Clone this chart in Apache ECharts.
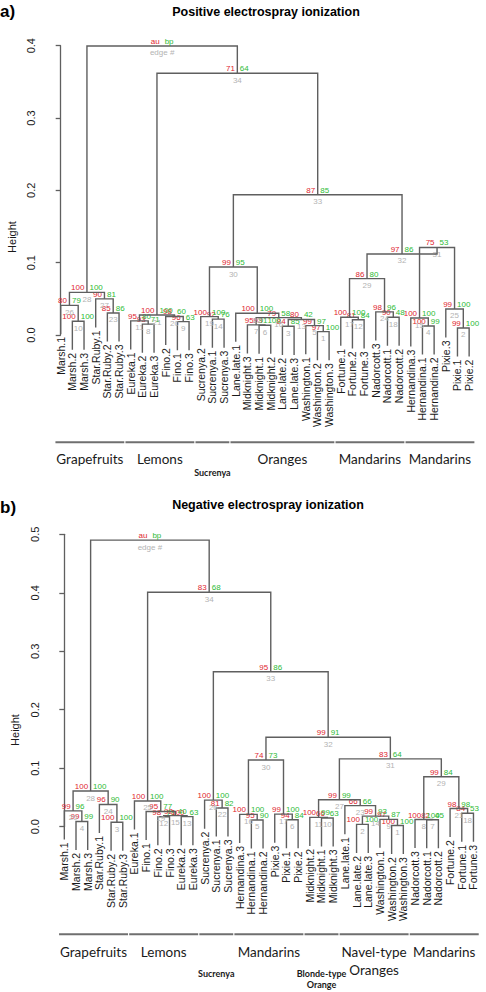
<!DOCTYPE html>
<html><head><meta charset="utf-8">
<script src="https://cdn.jsdelivr.net/npm/echarts@6/dist/echarts.min.js"></script>
<style>html,body{margin:0;padding:0;background:#fff}#c{width:486px;height:992px}</style>
</head><body><div id="c"></div>
<script>
// ---------------- DATA: panel a (positive ESI) ----------------
const posLeaves = ['Marsh.1','Marsh.2','Marsh.3','Star.Ruby.1','Star.Ruby.2','Star.Ruby.3',
  'Eureka.1','Eureka.2','Eureka.3','Fino.2','Fino.1','Fino.3','Sucrenya.2','Sucrenya.1','Sucrenya.3',
  'Lane.late.1','Midknight.3','Midknight.1','Midknight.2','Lane.late.2','Lane.late.3','Washington.1',
  'Washington.2','Washington.3','Fortune.1','Fortune.2','Fortune.3','Nadorcott.3','Nadorcott.1',
  'Nadorcott.2','Hernandina.3','Hernandina.1','Hernandina.2','Pixie.3','Pixie.1','Pixie.2'];
// merge k (edge k+1): leaf names or earlier edge numbers
const posMerge = [
  ['Washington.2','Washington.3'],['Pixie.1','Pixie.2'],['Lane.late.2','Lane.late.3'],
  ['Hernandina.1','Hernandina.2'],['Washington.1',1],['Midknight.1','Midknight.2'],['Midknight.3',6],
  ['Eureka.2','Eureka.3'],['Fino.1','Fino.3'],['Marsh.2','Marsh.3'],['Eureka.1',8],
  ['Fortune.2','Fortune.3'],[3,5],['Sucrenya.1','Sucrenya.3'],['Hernandina.3',4],[7,13],
  ['Fortune.1',12],['Nadorcott.1','Nadorcott.2'],['Sucrenya.2',14],['Fino.2',9],[11,20],
  ['Lane.late.1',16],['Star.Ruby.2','Star.Ruby.3'],['Nadorcott.3',18],['Pixie.3',2],['Marsh.1',10],
  ['Star.Ruby.1',23],[26,27],[17,24],[19,22],[15,25],[29,31],[30,32],[21,33],[28,34]];
const posHeight = [0.0046,0.0097,0.012,0.0125,0.013,0.0135,0.014,0.015,0.0185,0.019,0.0195,0.021,
  0.0215,0.022,0.0235,0.024,0.0245,0.0245,0.0254,0.0256,0.0276,0.030,0.0305,0.032,0.036,0.041,
  0.050,0.059,0.078,0.094,0.121,0.112,0.194,0.362,0.3996];
const posAU = [97,99,84,100,99,93,95,93,96,100,95,81,80,92,100,79,100,90,100,98,100,100,85,98,99,80,90,100,86,99,75,97,87,71];
const posBP = [100,100,85,99,97,100,91,71,63,100,80,84,42,76,100,58,100,48,100,60,100,100,86,96,100,79,81,100,80,95,53,86,85,64];
const posGroupNames = ['Grapefruits','Lemons','Sucrenya','Oranges','Mandarins','Mandarins'];
const posGroupFirst = [0,6,12,15,24,30];
const posGroupLast = [5,11,14,23,29,35];

// ---------------- DATA: panel b (negative ESI) ----------------
const negLeaves = ['Marsh.1','Marsh.2','Marsh.3','Star.Ruby.1','Star.Ruby.2','Star.Ruby.3',
  'Eureka.1','Fino.1','Fino.2','Fino.3','Eureka.2','Eureka.3','Sucrenya.2','Sucrenya.1','Sucrenya.3',
  'Hernandina.3','Hernandina.1','Hernandina.2','Pixie.3','Pixie.1','Pixie.2','Midknight.2',
  'Midknight.1','Midknight.3','Lane.late.1','Lane.late.2','Lane.late.3','Washington.1',
  'Washington.2','Washington.3','Nadorcott.3','Nadorcott.1','Nadorcott.2','Fortune.2','Fortune.1','Fortune.3'];
const negMerge = [
  ['Washington.2','Washington.3'],['Lane.late.2','Lane.late.3'],['Star.Ruby.2','Star.Ruby.3'],
  ['Marsh.2','Marsh.3'],['Hernandina.1','Hernandina.2'],['Pixie.1','Pixie.2'],
  ['Nadorcott.1','Nadorcott.2'],['Nadorcott.3',7],['Washington.1',1],['Midknight.1','Midknight.3'],
  ['Midknight.2',10],['Fino.2','Fino.3'],['Eureka.2','Eureka.3'],[2,9],[12,13],['Hernandina.3',5],
  ['Pixie.3',6],['Fortune.1','Fortune.3'],['Fino.1',15],['Marsh.1',4],['Fortune.2',18],
  ['Sucrenya.1','Sucrenya.3'],['Lane.late.1',14],['Star.Ruby.1',3],['Eureka.1',19],['Sucrenya.2',22],
  [11,23],[20,24],[8,21],[16,17],[27,29],[30,31],[26,32],[25,33],[28,34]];
const negHeight = [0.002,0.004,0.0075,0.009,0.0115,0.0118,0.012,0.0122,0.0126,0.015,0.016,0.017,
  0.0172,0.018,0.019,0.021,0.0215,0.023,0.026,0.027,0.031,0.032,0.036,0.038,0.044,0.0455,0.046,
  0.061,0.0854,0.114,0.116,0.153,0.265,0.401,0.490];
const negAU = [100,100,100,99,95,94,82,100,97,66,100,98,100,99,92,100,99,84,95,99,98,81,66,96,100,100,99,100,99,74,83,99,95,83];
const negBP = [100,100,100,99,90,84,45,100,87,63,99,79,63,93,40,100,100,53,77,96,98,82,66,90,100,100,99,100,84,73,64,91,86,68];
const negGroupNames = ['Grapefruits','Lemons','Sucrenya','Mandarins','Blonde-type\nOrange','Navel-type\nOranges','Mandarins'];
const negGroupFirst = [0,6,12,15,21,24,30];
const negGroupLast = [5,11,14,20,23,29,35];

// ---------------- styling / layout ----------------
const LINE = '#5f5f5f', RED = '#e0262f', GREEN = '#2dbb35', GRAY = '#b3b3b3', TXT = '#1a1a1a';
const FONT = '"Liberation Sans", Arial, sans-serif';
const GFONT = 'Lato, "Open Sans", sans-serif';
const SMALL_GROUPS = new Set(['Sucrenya','Blonde-type\nOrange']);
const panels = [
  {leaves:posLeaves, merge:posMerge, height:posHeight, au:posAU, bp:posBP,
   gNames:posGroupNames, gFirst:posGroupFirst, gLast:posGroupLast,
   left:44, top:45.7, h:289.3, xMin:-1.43, xMax:36, unit:11.67, yMax:0.4,
   bracketY:442.3, bigDy:8, smallDy:25},
  {leaves:negLeaves, merge:negMerge, height:negHeight, au:negAU, bp:negBP,
   gNames:negGroupNames, gFirst:negGroupFirst, gLast:negGroupLast,
   left:48.3, top:534.3, h:292.4, xMin:-1.37, xMax:36, unit:11.69, yMax:0.5,
   bracketY:934.3, bigDy:8.5, smallDy:34}
];

function buildTree(p) {
  const hs = p.height;
  const hang = 0.1 * (Math.max(...hs) - Math.min(...hs));
  const nodeX = [], links = [], leafItems = [];
  p.merge.forEach((pair, k) => {
    const h = hs[k];
    const ch = pair.map(c => {
      if (typeof c === 'string') {
        const x = p.leaves.indexOf(c);
        leafItems.push([x, h - hang]);
        return [x, h - hang];
      }
      return [nodeX[c - 1], hs[c - 1]];
    });
    nodeX[k] = (ch[0][0] + ch[1][0]) / 2;
    links.push([ch[0][0], ch[1][0], ch[0][1], ch[1][1], h, k]);
  });
  return {links, leafItems};
}

function txt(text, x, y, align, vAlign, color, font, rotation, lineHeight) {
  const st = {text:text, align:align, verticalAlign:vAlign, textAlign:align, textVerticalAlign:vAlign,
      font:font, fill:color};
  if (lineHeight) st.lineHeight = lineHeight;
  return {type:'text', x:x, y:y, rotation:rotation || 0, style:st};
}

const grids = [], xAxes = [], yAxes = [], series = [];
panels.forEach((p, i) => {
  const t = buildTree(p);
  grids.push({left:p.left, top:p.top, width:(p.xMax - p.xMin) * p.unit, height:p.h});
  xAxes.push({type:'value', gridIndex:i, min:p.xMin, max:p.xMax, show:false});
  yAxes.push({type:'value', gridIndex:i, min:0, max:p.yMax, interval:0.1,
    splitLine:{show:false},
    axisLine:{show:true, lineStyle:{color:LINE, width:1.3}},
    axisTick:{show:true, length:5, lineStyle:{color:LINE, width:1.3}},
    axisLabel:{rotate:90, margin:8, color:TXT, fontSize:11, fontFamily:FONT,
      formatter:v => v.toFixed(1)}});
  const last = p.merge.length - 1;
  // dendrogram branches with au / bp / edge labels
  series.push({type:'custom', xAxisIndex:i, yAxisIndex:i, clip:false, silent:true,
    data:t.links,
    renderItem:(params, api) => {
      const xa = api.value(0), xb = api.value(1), ba = api.value(2), bb = api.value(3),
            h = api.value(4), k = api.value(5);
      const a0 = api.coord([xa, ba]), a1 = api.coord([xa, h]), b1 = api.coord([xb, h]), b0 = api.coord([xb, bb]);
      const cx = (a1[0] + b1[0]) / 2, cy = a1[1];
      const isRoot = k === last;
      const f = '8px ' + FONT;
      return {type:'group', children:[
        {type:'polyline', shape:{points:[a0, a1, b1, b0]}, style:{stroke:LINE, lineWidth:1.4, fill:null}},
        txt(isRoot ? 'au' : String(p.au[k]), cx - 2.5, cy - 4.5, 'right', 'middle', RED, f),
        txt(isRoot ? 'bp' : String(p.bp[k]), cx + 2.5, cy - 4.5, 'left', 'middle', GREEN, f),
        txt(isRoot ? 'edge #' : String(k + 1), cx, cy + 7, 'center', 'middle', GRAY, f)
      ]};
    }});
  // leaf labels
  series.push({type:'custom', xAxisIndex:i, yAxisIndex:i, clip:false, silent:true,
    data:t.leafItems,
    renderItem:(params, api) => {
      const x = api.value(0), b = api.value(1);
      const pt = api.coord([x, b]);
      return txt(p.leaves[x], pt[0], pt[1] + 3, 'right', 'middle', TXT, '10.5px ' + FONT, Math.PI / 2);
    }});
});

const chart = echarts.init(document.getElementById('c'), null, {renderer:'svg'});
chart.setOption({
  animation:false,
  backgroundColor:'#fff',
  grid:grids, xAxis:xAxes, yAxis:yAxes, series:series
});

// fixed texts + group brackets (positions of brackets from the x axis scale)
const graphics = [
  {type:'text', x:0, y:11, style:{text:'a)', font:'bold 17px ' + FONT, fill:'#000', textVerticalAlign:'middle', verticalAlign:'middle'}},
  {type:'text', x:266, y:12, style:{text:'Positive electrospray ionization', font:'bold 12.5px ' + FONT, fill:'#000', textAlign:'center', align:'center', textVerticalAlign:'middle', verticalAlign:'middle'}},
  {type:'text', x:12, y:237, rotation:Math.PI/2, style:{text:'Height', font:'11px ' + FONT, fill:TXT, textAlign:'center', align:'center', textVerticalAlign:'middle', verticalAlign:'middle'}},
  {type:'text', x:0, y:507, style:{text:'b)', font:'bold 17px ' + FONT, fill:'#000', textVerticalAlign:'middle', verticalAlign:'middle'}},
  {type:'text', x:268, y:505, style:{text:'Negative electrospray ionization', font:'bold 12.5px ' + FONT, fill:'#000', textAlign:'center', align:'center', textVerticalAlign:'middle', verticalAlign:'middle'}},
  {type:'text', x:15, y:730, rotation:Math.PI/2, style:{text:'Height', font:'11px ' + FONT, fill:TXT, textAlign:'center', align:'center', textVerticalAlign:'middle', verticalAlign:'middle'}}
];
panels.forEach((p, i) => {
  p.gFirst.forEach((s, g) => {
    const e = p.gLast[g];
    const x1 = chart.convertToPixel({gridIndex:i}, [s - 0.45, 0])[0];
    const x2 = chart.convertToPixel({gridIndex:i}, [e + 0.45, 0])[0];
    const name = p.gNames[g];
    const small = SMALL_GROUPS.has(name);
    const y = p.bracketY;
    graphics.push({type:'line', shape:{x1:x1, y1:y, x2:x2, y2:y}, style:{stroke:'#6f6f6f', lineWidth:2}});
    graphics.push({type:'text', x:(x1 + x2) / 2, y:y + (small ? p.smallDy : p.bigDy),
      style:{text:name, textAlign:'center', align:'center', textVerticalAlign:'top', verticalAlign:'top',
        font:(small ? 'bold 9px ' : '13.5px ') + GFONT, lineHeight:small ? 11 : 18, fill:TXT}});
  });
});
chart.setOption({graphic:graphics});
</script></body></html>
